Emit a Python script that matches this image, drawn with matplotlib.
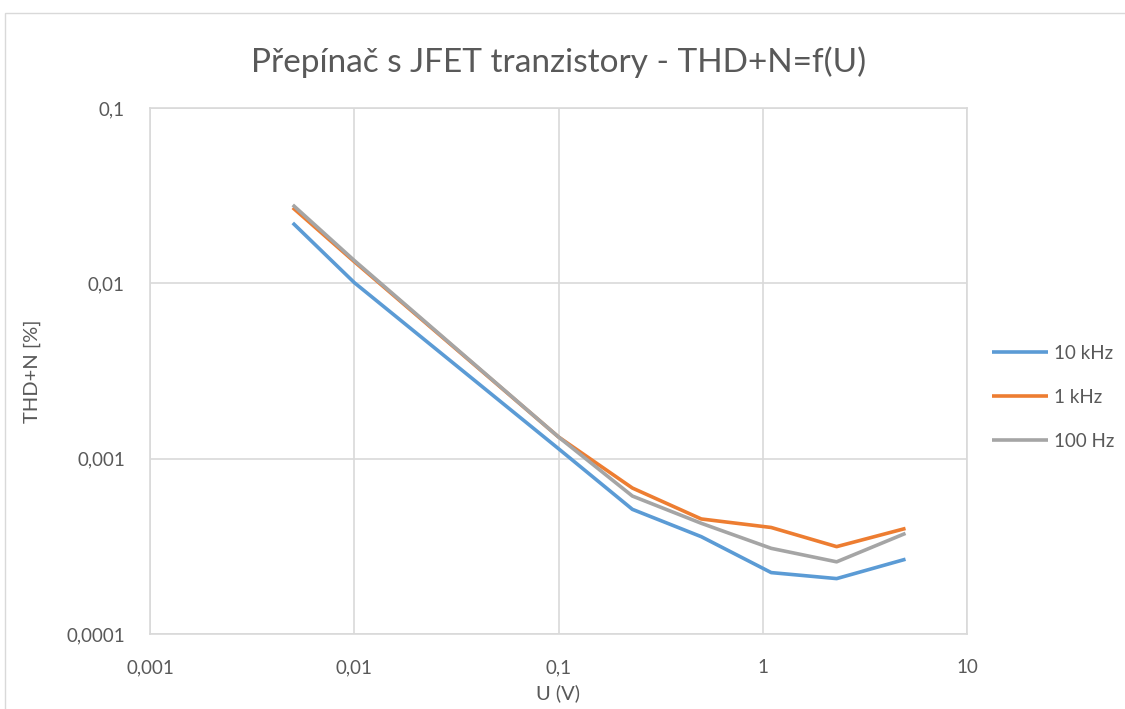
import matplotlib
matplotlib.use("Agg")
import matplotlib.pyplot as plt
from matplotlib.patches import Rectangle

plt.rcParams['font.family'] = ['Lato', 'DejaVu Sans']

# measured data
voltage = [0.005, 0.01, 0.1, 0.23, 0.5, 1.1, 2.3, 5.0]
thd_10k = [0.0221, 0.0101, 0.00114, 0.000514, 0.000359, 0.000224, 0.000207, 0.000267]
thd_1k = [0.027, 0.0133, 0.00133, 0.00068, 0.000453, 0.000405, 0.000315, 0.0004]
thd_100 = [0.028, 0.0135, 0.00133, 0.000612, 0.000428, 0.000308, 0.000258, 0.000375]
series_names = ["10 kHz", "1 kHz", "100 Hz"]
colors = ["#5b9bd5", "#ed7d31", "#a5a5a5"]

x_ticks = [0.001, 0.01, 0.1, 1, 10]
x_labels = ["0,001", "0,01", "0,1", "1", "10"]
y_ticks = [0.0001, 0.001, 0.01, 0.1]
y_labels = ["0,0001", "0,001", "0,01", "0,1"]

text_color = "#595959"
grid_color = "#d9d9d9"

fig = plt.figure(figsize=(11.25, 7.09), dpi=100)
fig.patches.append(Rectangle((5 / 1125, -0.01), 1.0, 1 - 13 / 709 + 0.01,
                             transform=fig.transFigure, fill=False,
                             edgecolor=grid_color, linewidth=1))

ax = fig.add_axes([150 / 1125, 1 - 634 / 709, (967 - 150) / 1125, (634 - 108) / 709])

for vals, name, c in zip([thd_10k, thd_1k, thd_100], series_names, colors):
    ax.plot(voltage, vals, color=c, linewidth=2.6, label=name,
            solid_capstyle='butt')

ax.set_xscale('log')
ax.set_yscale('log')
ax.set_xlim(0.001, 10)
ax.set_ylim(0.0001, 0.1)
ax.set_xticks(x_ticks)
ax.set_xticklabels(x_labels)
ax.set_yticks(y_ticks)
ax.set_yticklabels(y_labels)
ax.minorticks_off()
ax.tick_params(length=0, labelsize=13.5, colors=text_color)
ax.tick_params(axis='x', pad=18)
ax.tick_params(axis='y', pad=18)
ax.grid(True, color=grid_color, linewidth=1.2)
for s in ax.spines.values():
    s.set_color(grid_color)
    s.set_linewidth(1.2)

ax.set_xlabel("U (V)", fontsize=14.5, color=text_color, labelpad=6)
ax.set_ylabel("THD+N [%]", fontsize=14.5, color=text_color, labelpad=18)
fig.text(0.5 * (150 + 967) / 1125, 1 - 62 / 709, "Přepínač s JFET tranzistory - THD+N=f(U)",
         ha='center', va='center', fontsize=24, color=text_color)

leg = ax.legend(loc='center left', bbox_to_anchor=(1.01, 0.45), frameon=False,
                fontsize=13.5, labelcolor=text_color, handlelength=3.0,
                labelspacing=1.45, handletextpad=0.3)

fig.savefig("out.png", dpi=100)
